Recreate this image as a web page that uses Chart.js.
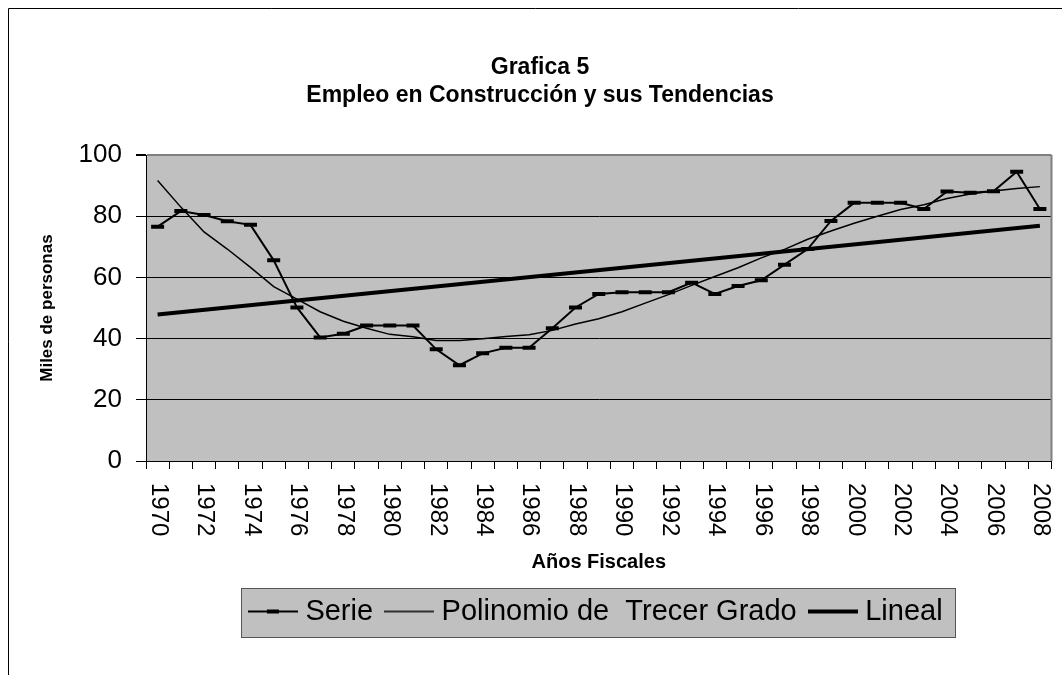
<!DOCTYPE html>
<html>
<head>
<meta charset="utf-8">
<script src="https://cdn.jsdelivr.net/npm/chart.js@4/dist/chart.umd.min.js"></script>
<style>
html,body{margin:0;padding:0;background:#fff;}
#wrap{width:1062px;height:675px;position:relative;}
</style>
</head>
<body>
<div id="wrap"><canvas id="c" width="1062" height="675"></canvas></div>
<script>
// ---- data ----
const years = [1970,1971,1972,1973,1974,1975,1976,1977,1978,1979,
               1980,1981,1982,1983,1984,1985,1986,1987,1988,1989,
               1990,1991,1992,1993,1994,1995,1996,1997,1998,1999,
               2000,2001,2002,2003,2004,2005,2006,2007,2008];
const serie = [76.6,81.7,80.4,78.4,77.2,65.6,50.2,40.4,41.6,44.3,
               44.3,44.3,36.5,31.3,35.2,37.0,37.0,43.4,50.2,54.6,
               55.2,55.2,55.2,58.3,54.6,57.2,59.1,64.2,69.3,78.5,
               84.4,84.4,84.4,82.4,88.1,87.7,88.2,94.6,82.4];
const polinomio = [91.7,83.0,74.9,69.3,63.3,57.0,52.9,48.8,45.7,43.4,
                   41.4,40.6,39.4,39.4,40.0,40.7,41.3,42.7,44.8,46.5,
                   48.8,51.6,54.4,57.4,60.3,63.2,66.4,69.2,72.5,75.2,
                   77.7,80.0,82.2,83.8,85.8,87.3,88.3,89.1,89.7];
const lineal = [47.9,null,null,null,null,null,null,null,null,null,
                null,null,null,null,null,null,null,null,null,null,
                null,null,null,null,null,null,null,null,null,null,
                null,null,null,null,null,null,null,null,76.9];
const seriesNames = ['Serie', 'Polinomio de  Trecer Grado', 'Lineal'];
const titleLines = ['Grafica 5', 'Empleo en Construcción y sus Tendencias'];
const yAxisTitle = 'Miles de personas';
const xAxisTitle = 'Años Fiscales';
const yMin = 0, yMax = 100, yStep = 20;

const FONT = "'Liberation Sans', Arial, Helvetica, sans-serif";
Chart.defaults.font.family = FONT;
Chart.defaults.color = '#000';

// legend symbols
function legendSymbol(kind) {
  const c = document.createElement('canvas');
  c.width = 50; c.height = 10;
  const g = c.getContext('2d');
  g.strokeStyle = '#000';
  g.lineWidth = kind === 'lineal' ? 4 : (kind === 'serie' ? 2 : 1.5);
  g.beginPath(); g.moveTo(0, 5); g.lineTo(50, 5); g.stroke();
  if (kind === 'serie') { g.fillStyle = '#000'; g.fillRect(19, 3, 12, 4); }
  return c;
}
const symbols = [legendSymbol('serie'), legendSymbol('poly'), legendSymbol('lineal')];

const decorPlugin = {
  id: 'decor',
  beforeDraw(chart) {
    const ctx = chart.ctx, a = chart.chartArea;
    ctx.save();
    ctx.fillStyle = '#fff';
    ctx.fillRect(0, 0, chart.width, chart.height);
    // outer frame (left and top visible)
    ctx.strokeStyle = '#000'; ctx.lineWidth = 1;
    ctx.beginPath(); ctx.moveTo(8.5, chart.height); ctx.lineTo(8.5, 8.5); ctx.lineTo(chart.width, 8.5); ctx.stroke();
    // plot area
    ctx.fillStyle = '#c0c0c0';
    ctx.fillRect(a.left, a.top, a.right - a.left, a.bottom - a.top);
    // legend box
    const hb = chart.legend && chart.legend.legendHitBoxes;
    if (hb && hb.length) {
      let l = Infinity, r = -Infinity, cy = 0;
      hb.forEach(h => { l = Math.min(l, h.left); r = Math.max(r, h.left + h.width); cy = h.top + h.height / 2; });
      l = Math.round(l - 14) + 0.5; r = Math.round(r + 12) + 0.5;
      const t = Math.round(cy - 24) + 0.5, b = Math.round(cy + 25) + 0.5;
      ctx.fillStyle = '#c0c0c0';
      ctx.fillRect(l, t, r - l, b - t);
      ctx.strokeStyle = '#555'; ctx.lineWidth = 1;
      ctx.strokeRect(l, t, r - l, b - t);
    }
    ctx.restore();
  },
  beforeDatasetsDraw(chart) {
    const ctx = chart.ctx, a = chart.chartArea;
    ctx.save();
    ctx.strokeStyle = '#808080'; ctx.lineWidth = 2;
    ctx.beginPath(); ctx.moveTo(a.right, a.top); ctx.lineTo(a.right, a.bottom); ctx.stroke();
    ctx.restore();
  },
  afterDraw(chart) {
    // x tick labels rotated clockwise (read top to bottom)
    const xs = chart.scales.x, ctx = chart.ctx;
    ctx.save();
    ctx.fillStyle = '#000';
    ctx.font = '24px ' + FONT;
    ctx.textAlign = 'left';
    ctx.textBaseline = 'middle';
    xs.ticks.forEach((t, i) => {
      const lbl = t.label;
      if (!lbl) return;
      const x = xs.getPixelForTick(i);
      ctx.save();
      ctx.translate(x + 1, xs.top + 22);
      ctx.rotate(Math.PI / 2);
      ctx.fillText(String(lbl), 0, 0);
      ctx.restore();
    });
    ctx.restore();
  }
};

new Chart(document.getElementById('c'), {
  type: 'line',
  data: {
    labels: years,
    datasets: [
      {
        label: seriesNames[0], data: serie,
        borderColor: '#000', borderWidth: 2, tension: 0,
        pointStyle: 'line', pointRadius: 6.5, pointBorderWidth: 4,
        pointBorderColor: '#000', pointBackgroundColor: '#000',
        pointHoverRadius: 6.5, order: 1
      },
      {
        label: seriesNames[1], data: polinomio,
        borderColor: '#000', borderWidth: 1.5, tension: 0,
        pointRadius: 0, pointHoverRadius: 0, order: 2
      },
      {
        label: seriesNames[2], data: lineal,
        borderColor: '#000', borderWidth: 4, tension: 0, spanGaps: true,
        pointRadius: 0, pointHoverRadius: 0, order: 3
      }
    ]
  },
  options: {
    responsive: false,
    animation: false,
    events: [],
    layout: { padding: { left: 24, right: 6, top: 0, bottom: 39 } },
    plugins: {
      tooltip: { enabled: false },
      title: {
        display: true, text: titleLines, color: '#000',
        font: { size: 23, weight: 'bold', lineHeight: 1.22 },
        padding: { top: 54, bottom: 45 }
      },
      legend: {
        display: true, position: 'bottom', fullSize: false,
        labels: {
          color: '#000', font: { size: 29 },
          usePointStyle: true, pointStyleWidth: 36, boxHeight: 10, padding: 18,
          generateLabels(chart) {
            return chart.data.datasets.map((ds, i) => ({
              text: ds.label, datasetIndex: i, pointStyle: symbols[i],
              fillStyle: '#000', strokeStyle: '#000', lineWidth: 0, hidden: false,
              fontColor: '#000'
            }));
          }
        }
      }
    },
    scales: {
      x: {
        type: 'category',
        offset: true,
        grid: { display: true, offset: true, drawOnChartArea: false, drawTicks: true, tickLength: 8, color: '#000', tickColor: '#000' },
        border: { display: true, color: '#000', width: 1 },
        ticks: {
          autoSkip: false, minRotation: 90, maxRotation: 90, padding: 15,
          font: { size: 24 }, color: 'rgba(0,0,0,0)',
          callback: (v, i) => (i % 2 === 0 ? String(years[i]) : '')
        },
        title: { display: true, text: xAxisTitle, color: '#000', font: { size: 20, weight: 'bold' }, padding: { top: 0, bottom: 5 } },
        afterFit(s) { s.height = 118; s.paddingLeft = 0; s.paddingRight = 0; }
      },
      y: {
        min: yMin, max: yMax,
        grid: {
          color: (c) => (c.tick && c.tick.value === yMax ? '#808080' : '#000'),
          lineWidth: (c) => (c.tick && c.tick.value === yMax ? 2 : 1),
          tickColor: '#000', tickLength: 10, drawTicks: true
        },
        border: { display: true, color: '#000', width: 1 },
        ticks: { stepSize: yStep, font: { size: 26 }, padding: 14, color: '#000' },
        title: { display: true, text: yAxisTitle, color: '#000', font: { size: 17, weight: 'bold' }, padding: { top: 13, bottom: 0 } },
        afterFit(s) { s.width = 122; }
      }
    }
  },
  plugins: [decorPlugin]
});
</script>
</body>
</html>
